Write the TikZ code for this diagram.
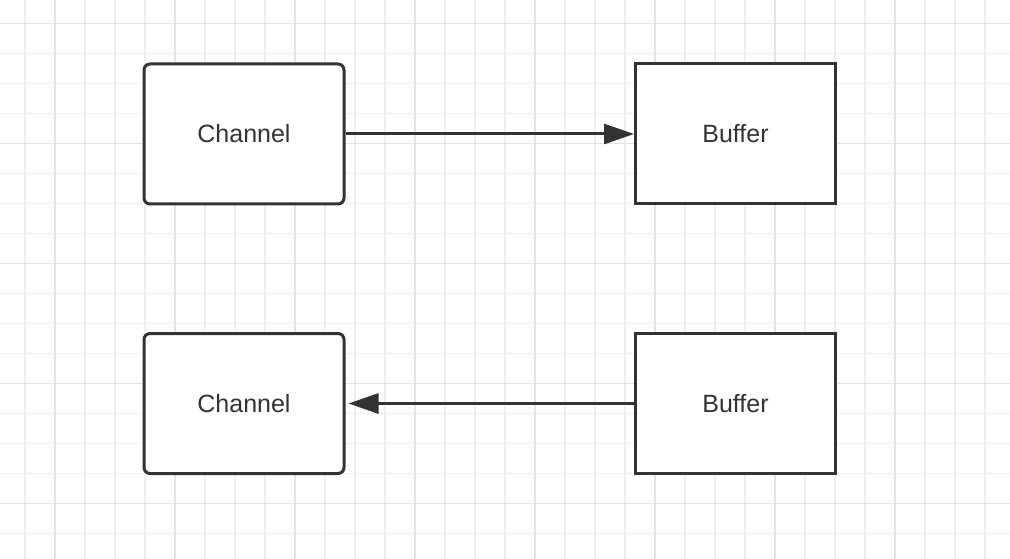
\documentclass[tikz,border=0pt]{standalone}
\usepackage{fontspec}
\setmainfont{Liberation Sans}
\usetikzlibrary{arrows.meta}

\definecolor{ink}{HTML}{333333}
\definecolor{gridminor}{HTML}{EFEFF2}
\definecolor{gridmajor}{HTML}{E3E3E7}

\tikzset{
  chanbox/.style={draw=ink, line width=3pt, rounded corners=6pt, fill=white,
    minimum width=200pt, minimum height=140pt, text=ink,
    font=\fontsize{25}{30}\selectfont},
  bufbox/.style={chanbox, rounded corners=0pt},
  link/.style={draw=ink, line width=3pt, -{Triangle[length=30pt, width=20pt]}}
}

\begin{document}
\begin{tikzpicture}[x=1pt, y=1pt]

\useasboundingbox (0,0) rectangle (1010,558);
\fill[white] (0,0) rectangle (1010,558);

% GRID
\begin{scope}
\clip (0,0) rectangle (1010,558);
\draw[gridminor, line width=1.5pt, xshift=25pt, yshift=24.7pt] (-30,-30) grid[step=30pt] (990,540);
\draw[gridmajor, line width=1.5pt, xshift=55pt, yshift=54.7pt] (-120,-120) grid[step=120pt] (960,510);
\end{scope}

% TOP ROW
\node[chanbox] (chanA) at (244,424) {Channel};
\node[bufbox] (bufA) at (735.5,424) {Buffer};

% BOTTOM ROW
\node[chanbox] (chanB) at (244,154.5) {Channel};
\node[bufbox] (bufB) at (735.5,154.5) {Buffer};

% ARROWS
\draw[link] (chanA) -- (bufA);
\draw[link, shorten >=3pt] (bufB) -- (chanB);

\end{tikzpicture}
\end{document}
